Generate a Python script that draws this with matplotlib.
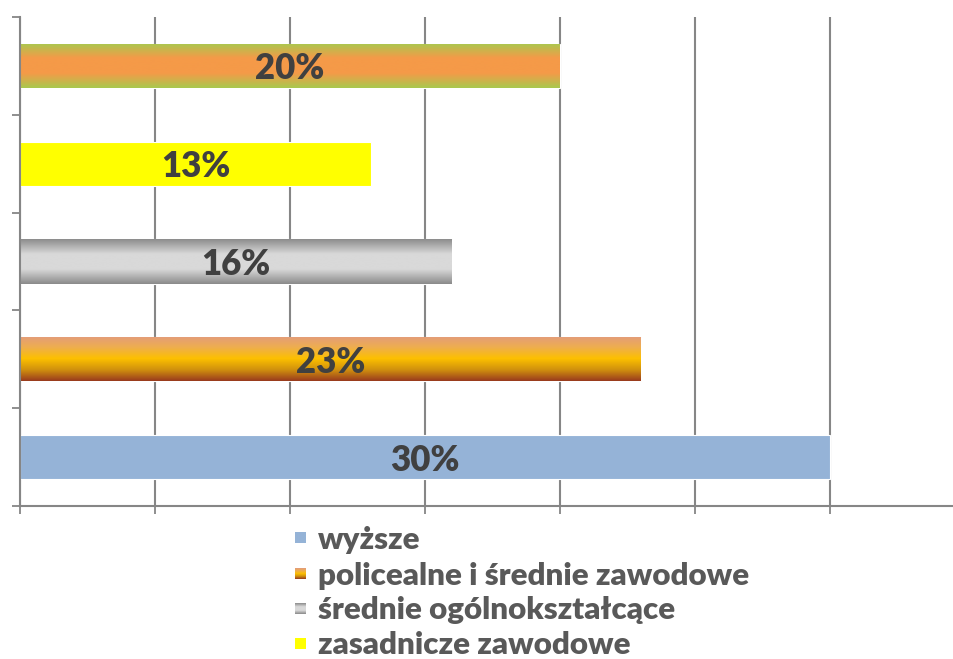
import numpy as np
import matplotlib
matplotlib.use("Agg")
import matplotlib.pyplot as plt
from matplotlib.colors import LinearSegmentedColormap

# data, bottom to top as drawn
categories = ["wyższe", "policealne i średnie zawodowe", "średnie ogólnokształcące",
              "zasadnicze zawodowe", "gimnazjalne i niższe"]
values = [30, 23, 16, 13, 20]
value_labels = ["30%", "23%", "16%", "13%", "20%"]
legend_shown = 4  # the fifth entry is cut off in the picture

# fills: plain colour or gradient stops from top to bottom
fills = [
    ["#95b3d7"],
    ["#e39c7c", "#eeae4e", "#fdc000", "#d0900e", "#983a1e"],
    ["#8c8c8c", "#d9d9d9", "#d9d9d9", "#8a8a8a"],
    ["#ffff00"],
    ["#a8c94f", "#f59a48", "#f59a48", "#a8c94f"],
]

plt.rcParams['font.family'] = ['Lato', 'DejaVu Sans']
grid_col = "#868686"

fig = plt.figure(figsize=(9.54, 6.59), dpi=100)
ax = fig.add_axes([20 / 954, 153 / 659, 945 / 954, 489 / 659])

ypos = np.arange(len(values))
bars = ax.barh(ypos, values, height=0.45, color=[f[0] for f in fills],
               edgecolor="white", linewidth=0.8, zorder=2)

for bar, fill in zip(bars, fills):
    if len(fill) == 1:
        continue
    x0, y0 = bar.get_x(), bar.get_y()
    w, h = bar.get_width(), bar.get_height()
    cmap = LinearSegmentedColormap.from_list("g", fill)
    grad = np.linspace(0, 1, 256).reshape(-1, 1)
    im = ax.imshow(grad, cmap=cmap, aspect="auto", origin="upper",
                   extent=[x0, x0 + w, y0, y0 + h], zorder=2.5)
    im.set_clip_path(bar)

for bar, lab in zip(bars, value_labels):
    ax.text(bar.get_width() / 2, bar.get_y() + bar.get_height() / 2, lab,
            ha="center", va="center_baseline", fontsize=25, fontweight="heavy",
            color="#404040", zorder=4)

ax.set_xlim(0, 35)
ax.set_ylim(-0.5, len(values) - 0.5)
ax.set_xticks(np.arange(0, 36, 5))
ax.set_yticks(np.arange(-0.5, len(values), 1))
ax.set_xticklabels([])
ax.set_yticklabels([])
ax.tick_params(axis="both", direction="out", length=6, width=1.3, color=grid_col)
ax.xaxis.grid(True, color=grid_col, linewidth=1.5)
ax.set_axisbelow(True)
for s in ["top", "right"]:
    ax.spines[s].set_visible(False)
for s in ["left", "bottom"]:
    ax.spines[s].set_color(grid_col)
    ax.spines[s].set_linewidth(1.5)

# legend drawn by hand so the swatches keep their gradients
W, H = 954, 659
row_y = [537, 573, 608, 643]
for i in range(legend_shown):
    fill = fills[i]
    sw = fig.add_axes([295 / W, 1 - (row_y[i] + 6) / H, 11 / W, 11 / H])
    sw.set_axis_off()
    cmap = LinearSegmentedColormap.from_list("s", fill if len(fill) > 1 else fill * 2)
    sw.imshow(np.linspace(0, 1, 64).reshape(-1, 1), cmap=cmap, aspect="auto")
    fig.text(318 / W, 1 - row_y[i] / H, categories[i], ha="left", va="center_baseline",
             fontsize=22.5, fontweight="heavy", color="#595959")

fig.savefig("out.png", dpi=100)
